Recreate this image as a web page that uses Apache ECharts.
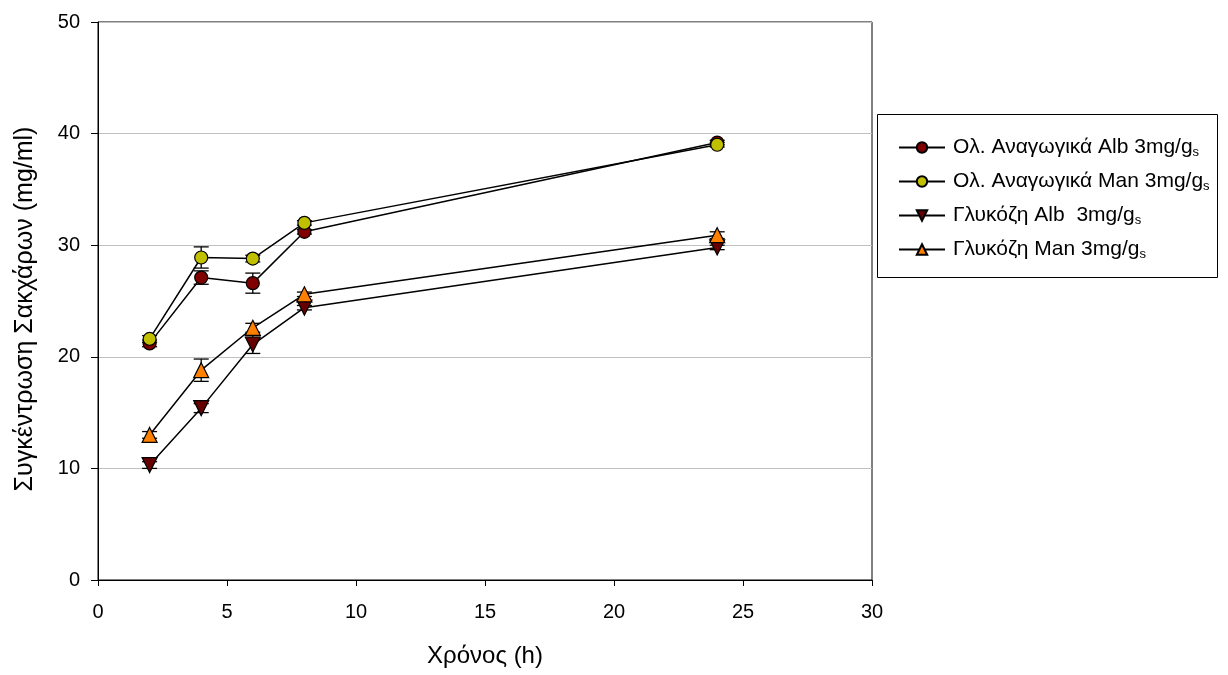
<!DOCTYPE html>
<html><head><meta charset="utf-8">
<script src="https://cdn.jsdelivr.net/npm/echarts@6/dist/echarts.min.js"></script>
<style>html,body{margin:0;padding:0;background:#fff}#c{width:1228px;height:675px}</style>
</head><body><div id="c"></div>
<script>
const hours = [2, 4, 6, 8, 24];
const totalAlb = [21.2, 27.1, 26.6, 31.2, 39.2];
const totalAlbErr = [0.3, 0.6, 0.9, 0.2, 0.2];
const totalMan = [21.6, 28.9, 28.8, 32.0, 39.0];
const totalManErr = [0.3, 0.95, 0.3, 0.2, 0.2];
const glucAlb = [10.3, 15.4, 21.1, 24.4, 29.8];
const glucAlbErr = [0.3, 0.4, 0.8, 0.2, 0.2];
const glucMan = [13.0, 18.8, 22.6, 25.6, 30.9];
const glucManErr = [0.3, 1.0, 0.4, 0.2, 0.3];
const names = ['Ολ. Αναγωγικά Alb 3mg/g', 'Ολ. Αναγωγικά Man 3mg/g', 'Γλυκόζη Alb  3mg/g', 'Γλυκόζη Man 3mg/g'];
const xTicks = [0, 5, 10, 15, 20, 25, 30];
const yTicks = [0, 10, 20, 30, 40, 50];

const FONT = '"Liberation Sans", Arial, sans-serif';
function pts(v){ return hours.map((h,i)=>[h, v[i]]); }
function errData(v,e){ return hours.map((h,i)=>[h, v[i]-e[i], v[i]+e[i]]); }
function errSeries(v,e){
  return {
    type:'custom', silent:true, z:1,
    data: errData(v,e),
    renderItem: function(params, api){
      const lo = api.coord([api.value(0), api.value(1)]);
      const hi = api.coord([api.value(0), api.value(2)]);
      const w = 7.5;
      const st = {stroke:'#000', lineWidth:1.3};
      return {type:'group', children:[
        {type:'line', shape:{x1:lo[0],y1:lo[1],x2:hi[0],y2:hi[1]}, style:st},
        {type:'line', shape:{x1:lo[0]-w,y1:lo[1],x2:lo[0]+w,y2:lo[1]}, style:st},
        {type:'line', shape:{x1:hi[0]-w,y1:hi[1],x2:hi[0]+w,y2:hi[1]}, style:st}
      ]};
    }
  };
}
function lineSeries(name, v, symbol, color, size, rot){
  return {
    name, type:'line', data: pts(v), symbol, symbolSize:size, symbolRotate: rot||0,
    z:3, showAllSymbol:true,
    lineStyle:{color:'#000', width:1.5},
    itemStyle:{color, borderColor:'#000', borderWidth:1.2},
    emphasis:{disabled:true}
  };
}
const chart = echarts.init(document.getElementById('c'), null, {renderer:'canvas'});
chart.setOption({
  animation:false,
  backgroundColor:'#fff',
  textStyle:{fontFamily:FONT},
  grid:{left:98, right:356, top:22, bottom:95, show:true, borderColor:'#000', borderWidth:1},
  xAxis:{
    type:'value', min:0, max:30, interval:5,
    name:'Χρόνος (h)', nameLocation:'middle', nameGap:64,
    nameTextStyle:{fontSize:24, color:'#000', fontFamily:FONT},
    axisLine:{show:true, onZero:false, lineStyle:{color:'#000'}},
    axisTick:{show:true, length:6, lineStyle:{color:'#000'}},
    axisLabel:{fontSize:20, color:'#000', margin:22, fontFamily:FONT},
    splitLine:{show:false}
  },
  yAxis:{
    type:'value', min:0, max:50, interval:10,
    name:'Συγκέντρωση Σακχάρων (mg/ml)', nameLocation:'middle', nameGap:60, nameRotate:90,
    nameTextStyle:{fontSize:25, color:'#000', fontFamily:FONT, padding:[0,16,0,0]},
    axisLine:{show:true, lineStyle:{color:'#000'}},
    axisTick:{show:true, length:7, lineStyle:{color:'#000'}},
    axisLabel:{fontSize:20, color:'#000', margin:18, fontFamily:FONT},
    splitLine:{show:true, lineStyle:{color:'#c0c0c0', width:1}}
  },
  graphic:[{type:'rect', shape:{x:877.5, y:114.5, width:340, height:163}, style:{fill:'none', stroke:'#000', lineWidth:1}, z:0}],
  legend:{
    orient:'vertical', left:893, top:132, itemWidth:46, itemHeight:13, itemGap:12,
    data: names,
    formatter: n => n + '{s|s}',
    textStyle:{fontSize:21, color:'#000', fontFamily:FONT, padding:[0,0,0,3],
      rich:{s:{fontSize:13, color:'#000', fontFamily:FONT, padding:[10,0,0,0]}}},
    selectedMode:false
  },
  series:[
    errSeries(totalAlb,totalAlbErr), errSeries(totalMan,totalManErr),
    errSeries(glucAlb,glucAlbErr), errSeries(glucMan,glucManErr),
    lineSeries(names[0], totalAlb, 'circle', '#800000', 13),
    lineSeries(names[1], totalMan, 'circle', '#c0c000', 13),
    lineSeries(names[2], glucAlb, 'triangle', '#660000', 15, 180),
    lineSeries(names[3], glucMan, 'triangle', '#ff8000', 15)
  ]
});
</script></body></html>
